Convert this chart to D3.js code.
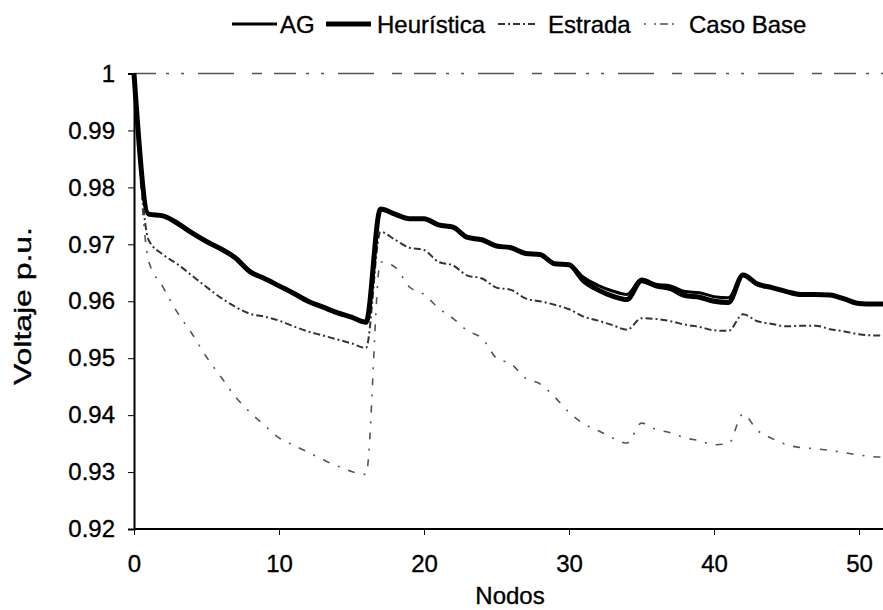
<!DOCTYPE html>
<html>
<head>
<meta charset="utf-8">
<script src="https://cdn.jsdelivr.net/npm/d3@7/dist/d3.min.js"></script>
<style>
  html, body { margin: 0; padding: 0; background: #fff; }
  svg { display: block; font-family: Arial, "Liberation Sans", sans-serif; }
  .lbl { fill: #000; stroke: #000; stroke-width: 0.35px; }
</style>
</head>
<body>
<svg id="chart" width="883" height="610"></svg>
<script>
// Node numbers along the feeder
const nodos = d3.range(0, 53);

// Voltage profiles (p.u.) for each node
const ag = [1.0000, 0.9753, 0.9750, 0.9737, 0.9720, 0.9705, 0.9692, 0.9676, 0.9652, 0.9640,
            0.9627, 0.9614, 0.9600, 0.9590, 0.9580, 0.9572, 0.9563, 0.9762, 0.9753, 0.9745,
            0.9745, 0.9734, 0.9730, 0.9712, 0.9708, 0.9697, 0.9694, 0.9684, 0.9682, 0.9666,
            0.9664, 0.9642, 0.9628, 0.9618, 0.9612, 0.9639, 0.9630, 0.9627, 0.9617, 0.9615,
            0.9608, 0.9606, 0.9646, 0.9630, 0.9624, 0.9617, 0.9612, 0.9612, 0.9611, 0.9604,
            0.9596, 0.9595, 0.9595];
const heuristica = [1.0000, 0.9753, 0.9750, 0.9737, 0.9720, 0.9705, 0.9692, 0.9676, 0.9652, 0.9640,
            0.9627, 0.9614, 0.9600, 0.9590, 0.9580, 0.9572, 0.9563, 0.9762, 0.9753, 0.9745,
            0.9745, 0.9734, 0.9730, 0.9712, 0.9708, 0.9697, 0.9694, 0.9684, 0.9682, 0.9666,
            0.9664, 0.9636, 0.9620, 0.9609, 0.9603, 0.9636, 0.9627, 0.9622, 0.9610, 0.9607,
            0.9600, 0.9598, 0.9646, 0.9630, 0.9624, 0.9617, 0.9612, 0.9612, 0.9611, 0.9604,
            0.9596, 0.9595, 0.9595];
const estrada = [1.0000, 0.9708, 0.9682, 0.9665, 0.9645, 0.9625, 0.9606, 0.9590, 0.9578, 0.9573,
            0.9566, 0.9556, 0.9547, 0.9540, 0.9533, 0.9526, 0.9518, 0.9722, 0.9708, 0.9694,
            0.9690, 0.9669, 0.9663, 0.9645, 0.9640, 0.9624, 0.9620, 0.9605, 0.9600, 0.9594,
            0.9586, 0.9573, 0.9566, 0.9558, 0.9550, 0.9570, 0.9569, 0.9565, 0.9559, 0.9555,
            0.9549, 0.9548, 0.9577, 0.9565, 0.9560, 0.9556, 0.9557, 0.9557, 0.9551, 0.9547,
            0.9542, 0.9540, 0.9540];
const casoBase = [1.0000, 0.9672, 0.9625, 0.9580, 0.9543, 0.9502, 0.9467, 0.9432, 0.9405, 0.9382,
            0.9360, 0.9347, 0.9335, 0.9322, 0.9311, 0.9301, 0.9296, 0.9669, 0.9660, 0.9625,
            0.9612, 0.9588, 0.9570, 0.9548, 0.9535, 0.9500, 0.9490, 0.9465, 0.9455, 0.9432,
            0.9405, 0.9385, 0.9373, 0.9360, 0.9351, 0.9386, 0.9375, 0.9369, 0.9360, 0.9355,
            0.9348, 0.9350, 0.9402, 0.9373, 0.9359, 0.9348, 0.9343, 0.9341, 0.9338, 0.9334,
            0.9330, 0.9327, 0.9326];

const seriesNames = ["AG", "Heurística", "Estrada", "Caso Base"];
const yTicks = [0.92, 0.93, 0.94, 0.95, 0.96, 0.97, 0.98, 0.99, 1];
const yTickLabels = ["0.92", "0.93", "0.94", "0.95", "0.96", "0.97", "0.98", "0.99", "1"];
const xTicks = [0, 10, 20, 30, 40, 50];

const svg = d3.select("#chart");
const plotLeft = 134, plotRight = 888, plotTop = 73.5, plotBottom = 529;
const fontSize = 24;

const x = d3.scaleLinear().domain([0, 52]).range([plotLeft, plotRight]);
const y = d3.scaleLinear().domain([0.92, 1]).range([plotBottom, plotTop]);

// line styles per series
const styles = [
  { data: ag,         width: 3,   color: "#000", dash: null },
  { data: heuristica, width: 5,   color: "#000", dash: null },
  { data: estrada,    width: 2,   color: "#333", dash: "7,3,2,3" },
  { data: casoBase,   width: 1.6, color: "#555", dash: "7,9,2,9" }
];

svg.append("clipPath").attr("id", "plot-clip")
  .append("rect").attr("x", plotLeft - 3).attr("y", plotTop - 5)
  .attr("width", plotRight - plotLeft + 6).attr("height", plotBottom - plotTop + 10);

// broken frame line along the top of the plot
svg.append("line")
  .attr("x1", plotLeft).attr("x2", 883)
  .attr("y1", y(1)).attr("y2", y(1))
  .attr("stroke", "#555").attr("stroke-width", 1.3)
  .attr("stroke-dasharray", "22,10,3,12,3,14,36,18,10,12");

const line = d3.line()
  .x((d, i) => x(nodos[i]))
  .y(d => y(d))
  .curve(d3.curveMonotoneX);

const plot = svg.append("g").attr("clip-path", "url(#plot-clip)");
// draw the faint series first, heavy ones on top
[3, 2, 1, 0].forEach(k => {
  const s = styles[k];
  plot.append("path")
    .attr("d", line(s.data))
    .attr("fill", "none")
    .attr("stroke", s.color)
    .attr("stroke-width", s.width)
    .attr("stroke-linejoin", "round")
    .attr("stroke-dasharray", s.dash);
});

// axes
const yAxis = d3.axisLeft(y).tickValues(yTicks)
  .tickFormat((d, i) => yTickLabels[i]).tickSize(6).tickPadding(13);
const gy = svg.append("g").attr("transform", `translate(${plotLeft},0)`).call(yAxis);
gy.select(".domain").attr("stroke", "#000").attr("stroke-width", 2);
gy.selectAll(".tick line").attr("stroke", "#000").attr("stroke-width", 1);
gy.selectAll(".tick text").attr("font-size", fontSize).attr("class", "lbl")
  .attr("font-family", "Arial, 'Liberation Sans', sans-serif");

const xAxis = d3.axisBottom(x).tickValues(xTicks).tickSize(6).tickPadding(20)
  .tickFormat(d3.format("d"));
const gx = svg.append("g").attr("transform", `translate(0,${plotBottom})`).call(xAxis);
gx.select(".domain").attr("stroke", "#000").attr("stroke-width", 2)
  .attr("d", `M${plotLeft},0H${plotRight}`);
gx.selectAll(".tick line").attr("stroke", "#000").attr("stroke-width", 1);
gx.selectAll(".tick text").attr("font-size", fontSize).attr("class", "lbl")
  .attr("font-family", "Arial, 'Liberation Sans', sans-serif");

// axis titles
svg.append("text")
  .attr("class", "lbl")
  .attr("x", 510).attr("y", 604)
  .attr("text-anchor", "middle").attr("font-size", fontSize)
  .text("Nodos");
svg.append("text")
  .attr("class", "lbl")
  .attr("transform", `translate(31,306) rotate(-90)`)
  .attr("text-anchor", "middle").attr("font-size", fontSize)
  .attr("textLength", 158).attr("lengthAdjust", "spacingAndGlyphs")
  .text("Voltaje p.u.");

// legend
const legendItems = [
  { name: seriesNames[0], x1: 232, x2: 277, tx: 280 },
  { name: seriesNames[1], x1: 326, x2: 371, tx: 377 },
  { name: seriesNames[2], x1: 498, x2: 537, tx: 548 },
  { name: seriesNames[3], x1: 644, x2: 681, tx: 689 }
];
const legendY = 24;
legendItems.forEach((it, i) => {
  const s = styles[i];
  svg.append("line")
    .attr("x1", it.x1).attr("x2", it.x2)
    .attr("y1", legendY).attr("y2", legendY)
    .attr("stroke", s.color).attr("stroke-width", s.width)
    .attr("stroke-dasharray", i === 3 ? "2,8,2,4,8,4" : s.dash);
  svg.append("text")
    .attr("class", "lbl")
    .attr("x", it.tx).attr("y", legendY + 8.5)
    .attr("font-size", fontSize)
    .text(it.name);
});
</script>
</body>
</html>
